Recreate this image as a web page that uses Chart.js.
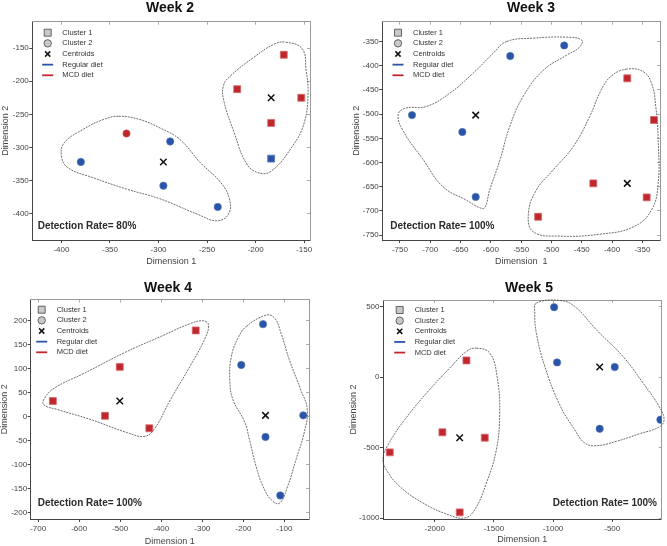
<!DOCTYPE html>
<html lang="en">
<head>
<meta charset="UTF-8" />
<title>Cluster plots, weeks 2-5</title>
<script src="https://cdn.jsdelivr.net/npm/chart.js"></script>
<style>
  body { margin: 0; background: #fff; font-family: "Liberation Sans", Arial, sans-serif; }
  #page { position: relative; width: 667px; height: 546px; overflow: hidden; }
  .panel { position: absolute; height: 273px; }
  .title { position: absolute; margin: 0; font-size: 14px; line-height: 14px; font-weight: bold; color: #111; white-space: nowrap; transform: translateX(-50%); }
</style>
</head>
<body>
<div id="page">
  <div class="panel" style="left:0;top:0;width:333px"><canvas id="w2"></canvas></div>
  <div class="panel" style="left:333px;top:0;width:334px"><canvas id="w3"></canvas></div>
  <div class="panel" style="left:0;top:273px;width:333px"><canvas id="w4"></canvas></div>
  <div class="panel" style="left:333px;top:273px;width:334px"><canvas id="w5"></canvas></div>
  <h2 class="title" style="left:170px;top:0">Week 2</h2>
  <h2 class="title" style="left:531px;top:0">Week 3</h2>
  <h2 class="title" style="left:168px;top:279.5px">Week 4</h2>
  <h2 class="title" style="left:529px;top:279.5px">Week 5</h2>
</div>

<script>
  const LEGEND_LABELS = ['Cluster 1', 'Cluster 2', 'Centroids', 'Regular diet', 'MCD diet'];

  // Week 2
  const W2_X_TICKS = [-400, -350, -300, -250, -200, -150];
  const W2_Y_TICKS = [-400, -350, -300, -250, -200, -150];
  const W2_MCD_C1 = [[-171, -160], [-219, -212], [-153, -225], [-184, -263]];
  const W2_REG_C1 = [[-184, -317]];
  const W2_MCD_C2 = [[-333, -279]];
  const W2_REG_C2 = [[-380, -322], [-288, -291], [-295, -358], [-239, -390]];
  const W2_CENTROIDS = [[-184, -225], [-295, -322]];
  const W2_HULL_C1 = [[-169, -141], [-152, -151], [-148, -183], [-146, -218], [-150, -263], [-162, -298], [-184, -336], [-198, -338], [-210, -323], [-222, -278], [-233, -228], [-233, -206], [-226, -192], [-202, -164], [-181, -144]];
  const W2_HULL_C2 = [[-341, -253], [-319, -258], [-298, -271], [-278, -288], [-257, -323], [-236, -353], [-227, -378], [-228, -401], [-240, -411], [-260, -401], [-298, -378], [-333, -363], [-367, -346], [-393, -331], [-400, -313], [-397, -293], [-378, -273], [-357, -258]];

  // Week 3
  const W3_X_TICKS = [-750, -700, -650, -600, -550, -500, -450, -400, -350];
  const W3_Y_TICKS = [-750, -700, -650, -600, -550, -500, -450, -400, -350];
  const W3_MCD_C1 = [[-375, -426], [-331, -512], [-431, -643], [-343, -672], [-522, -712]];
  const W3_REG_C2 = [[-479, -358], [-568, -380], [-730, -502], [-647, -537], [-625, -671]];
  const W3_CENTROIDS = [[-375, -643], [-625, -502]];
  const W3_HULL_C1 = [[-376, -407], [-401, -421], [-418, -450], [-437, -505], [-464, -567], [-497, -615], [-525, -657], [-538, -705], [-530, -743], [-486, -752], [-420, -748], [-365, -733], [-335, -698], [-324, -643], [-324, -553], [-328, -484], [-335, -436], [-349, -412]];
  const W3_HULL_C2 = [[-574, -350], [-530, -343], [-475, -341], [-450, -347], [-454, -362], [-475, -378], [-514, -410], [-547, -464], [-569, -526], [-585, -595], [-602, -657], [-610, -693], [-619, -693], [-640, -678], [-679, -650], [-711, -595], [-744, -536], [-753, -502], [-742, -488], [-706, -484], [-668, -457], [-629, -415], [-596, -374]];

  // Week 4
  const W4_X_TICKS = [-700, -600, -500, -400, -300, -200, -100];
  const W4_Y_TICKS = [-200, -150, -100, -50, 0, 50, 100, 150, 200];
  const W4_MCD_C1 = [[-316, 180], [-501, 104], [-664, 33], [-537, 2], [-429, -24]];
  const W4_REG_C2 = [[-152, 193], [-205, 108], [-54, 3], [-146, -42], [-110, -164]];
  const W4_CENTROIDS = [[-501, 33], [-146, 3]];
  const W4_HULL_C1 = [[-684, 39], [-660, 60], [-587, 91], [-491, 133], [-402, 167], [-330, 194], [-297, 200], [-285, 192], [-293, 164], [-330, 105], [-378, 35], [-418, -27], [-442, -41], [-483, -33], [-571, -6], [-652, 15], [-686, 25]];
  const W4_HULL_C2 = [[-193, 188], [-144, 212], [-124, 206], [-108, 174], [-88, 119], [-60, 56], [-44, 15], [-52, -34], [-72, -90], [-92, -145], [-112, -180], [-132, -173], [-152, -145], [-169, -103], [-185, -48], [-197, -10], [-225, 35], [-233, 77], [-229, 126], [-213, 164]];

  // Week 5
  const W5_X_TICKS = [-2000, -1500, -1000, -500];
  const W5_Y_TICKS = [-1000, -500, 0, 500];
  const W5_MCD_C1 = [[-1732, 118], [-1935, -391], [-1577, -429], [-2380, -533], [-1789, -958]];
  const W5_REG_C2 = [[-991, 495], [-966, 104], [-479, 71], [-93, -302], [-606, -366]];
  const W5_CENTROIDS = [[-1789, -429], [-606, 71]];
  const W5_HULL_C1 = [[-1648, 205], [-1535, 170], [-1473, 5], [-1451, -255], [-1479, -514], [-1563, -750], [-1662, -939], [-1747, -998], [-1887, -974], [-2099, -892], [-2296, -774], [-2409, -656], [-2437, -573], [-2394, -479], [-2254, -302], [-2056, -101], [-1873, 64], [-1732, 182]];
  const W5_HULL_C2 = [[-1141, 524], [-944, 543], [-817, 500], [-634, 335], [-409, 146], [-239, -43], [-104, -208], [-62, -302], [-104, -354], [-268, -401], [-465, -455], [-634, -486], [-732, -467], [-817, -373], [-944, -196], [-1070, 76], [-1141, 311], [-1155, 453]];

  const RED = '#c0272d', RED_EDGE = '#d4686b', BLUE = '#2a54a8', BLUE_EDGE = '#5878bb';
  const FONT = '"Liberation Sans", Arial, sans-serif';
  Chart.defaults.font.family = FONT;

  const pts = arr => arr.map(([x, y]) => ({ x, y }));

  const squares = (data, fill, edge) => ({ data: pts(data), pointStyle: 'rect', pointRadius: 4.9, pointBorderWidth: 0.8, backgroundColor: fill, borderColor: edge });
  const circles = (data, fill, edge) => ({ data: pts(data), pointStyle: 'circle', pointRadius: 3.7, pointBorderWidth: 0.6, backgroundColor: fill, borderColor: edge });
  const crosses = data => ({ data: pts(data), pointStyle: 'crossRot', pointRadius: 4.6, pointBorderWidth: 1.5, borderColor: '#111', backgroundColor: '#111' });
  const hull = data => ({ data: pts(data), showLine: true, closed: true, pointRadius: 0, pointHoverRadius: 0, pointHitRadius: 0, borderColor: '#4a4a4a', borderWidth: 0.8, borderDash: [2, 1], tension: 0.42, capBezierPoints: false, fill: false, clip: 12 });

  // smooth closed outline: tell the line element it is a loop
  const closeLoops = {
    id: 'closeLoops',
    afterDatasetUpdate(chart, args) {
      const line = args.meta.dataset;
      if (line && chart.data.datasets[args.index].closed) {
        line._loop = true;
        line._fullLoop = true;
        delete line._segments;
        delete line._path;
        line._pointsUpdated = false;
      }
    }
  };

  const drawIcon = (ctx, i, x, y) => {
    ctx.lineWidth = 0.8;
    ctx.strokeStyle = '#444';
    ctx.fillStyle = '#c9c9c9';
    ctx.beginPath();
    if (i === 0) {
      ctx.rect(x - 3.5, y - 3.5, 7, 7);
      ctx.fill(); ctx.stroke();
    } else if (i === 1) {
      ctx.arc(x, y, 3.7, 0, Math.PI * 2);
      ctx.fill(); ctx.stroke();
    } else if (i === 2) {
      ctx.strokeStyle = '#111';
      ctx.lineWidth = 1.5;
      ctx.moveTo(x - 2.6, y - 2.6); ctx.lineTo(x + 2.6, y + 2.6);
      ctx.moveTo(x + 2.6, y - 2.6); ctx.lineTo(x - 2.6, y + 2.6);
      ctx.stroke();
    } else {
      ctx.strokeStyle = i === 3 ? BLUE : RED;
      ctx.lineWidth = 1.8;
      ctx.moveTo(x - 5.5, y); ctx.lineTo(x + 5.5, y);
      ctx.stroke();
    }
  };

  const panelDecor = {
    id: 'panelDecor',
    afterDatasetsDraw(chart, args, o) {
      const { ctx, chartArea: a } = chart;
      ctx.save();
      LEGEND_LABELS.forEach((label, i) => {
        const y = a.top + o.legendY + i * 10.65;
        drawIcon(ctx, i, a.left + o.legendX, y);
        ctx.fillStyle = '#333';
        ctx.font = '7.5px ' + FONT;
        ctx.textAlign = 'left';
        ctx.textBaseline = 'middle';
        ctx.fillText(label, a.left + o.textX, y);
      });
      ctx.font = 'bold 10px ' + FONT;
      ctx.fillStyle = '#2b2b2b';
      ctx.textAlign = o.rateAlign;
      ctx.textBaseline = 'middle';
      const rx = o.rateAlign === 'right' ? a.right - o.rateX : a.left + o.rateX;
      ctx.fillText(o.rateText, rx, a.top + o.rateY);
      ctx.restore();
    }
  };

  const fixedTicks = values => s => { s.ticks = values.map(value => ({ value })); };

  const axis = (pos, range, tickValues, extra) => Object.assign({
    type: 'linear', position: pos, min: range[0], max: range[1],
    afterBuildTicks: fixedTicks(tickValues),
    ticks: { autoSkip: false, maxRotation: 0, callback: v => String(v), color: '#444', font: { size: 8 }, padding: pos === 'bottom' ? 2 : 0.5 },
    grid: { drawOnChartArea: false, tickLength: 3, tickColor: '#444', tickWidth: 1 },
    border: { color: '#444', width: 1 }
  }, extra);

  const mirror = (pos, range, tickValues) => ({
    type: 'linear', position: pos, min: range[0], max: range[1],
    afterBuildTicks: fixedTicks(tickValues),
    ticks: { display: false },
    grid: { drawOnChartArea: false, tickLength: -3, tickColor: '#999', tickWidth: 0.8 },
    border: { color: '#999', width: 1 },
    afterFit: s => { if (pos === 'top') s.height = 0; else s.width = 0; }
  });

  const makeChart = (id, W, box, xr, yr, xt, yt, xTitle, titlePads, decor, datasets) => {
    const H = 273;
    return new Chart(document.getElementById(id), {
      type: 'scatter',
      data: { datasets },
      options: {
        responsive: true,
        maintainAspectRatio: false,
        animation: false,
        events: [],
        layout: { autoPadding: false, padding: { left: 0, top: box.t, right: W - box.r, bottom: 0 } },
        plugins: { legend: { display: false }, tooltip: { enabled: false }, panelDecor: decor },
        scales: {
          x: axis('bottom', xr, xt, {
            title: { display: true, text: xTitle, color: '#444', font: { size: 9, lineHeight: 1 }, padding: { top: 0, bottom: titlePads.x } },
            afterFit: s => { s.height = H - box.b; }
          }),
          y: axis('left', yr, yt, {
            title: { display: true, text: 'Dimension 2', color: '#444', font: { size: 9, lineHeight: 1 }, padding: { top: titlePads.y, bottom: 0 } },
            afterFit: s => { s.width = box.l; }
          }),
          x2: mirror('top', xr, xt),
          y2: mirror('right', yr, yt)
        }
      },
      plugins: [closeLoops, panelDecor]
    });
  };

  makeChart('w2', 333, { l: 32.3, r: 310, t: 21.7, b: 240 }, [-430, -144], [-440, -110], W2_X_TICKS, W2_Y_TICKS, 'Dimension 1', { x: 6.5, y: 1.5 },
    { legendX: 15.4, legendY: 11, textX: 30, rateText: 'Detection Rate= 80%', rateX: 5.4, rateY: 205, rateAlign: 'left' },
    [
      crosses(W2_CENTROIDS),
      squares(W2_MCD_C1, RED, RED_EDGE),
      squares(W2_REG_C1, BLUE, BLUE_EDGE),
      circles(W2_MCD_C2, RED, RED_EDGE),
      circles(W2_REG_C2, BLUE, BLUE_EDGE),
      hull(W2_HULL_C1),
      hull(W2_HULL_C2)
    ]);

  makeChart('w3', 334, { l: 49.3, r: 327, t: 21.7, b: 240 }, [-779, -321], [-760, -309], W3_X_TICKS, W3_Y_TICKS, 'Dimension  1', { x: 6.5, y: 18.8 },
    { legendX: 15.7, legendY: 11, textX: 30.7, rateText: 'Detection Rate= 100%', rateX: 8, rateY: 205, rateAlign: 'left' },
    [
      crosses(W3_CENTROIDS),
      squares(W3_MCD_C1, RED, RED_EDGE),
      circles(W3_REG_C2, BLUE, BLUE_EDGE),
      hull(W3_HULL_C1),
      hull(W3_HULL_C2)
    ]);

  makeChart('w4', 333, { l: 30.7, r: 309, t: 26.7, b: 246 }, [-718, -40], [-213, 244], W4_X_TICKS, W4_Y_TICKS, 'Dimension 1', { x: 0.2, y: 0.5 },
    { legendX: 11, legendY: 10, textX: 26, rateText: 'Detection Rate= 100%', rateX: 7, rateY: 203.3, rateAlign: 'left' },
    [
      crosses(W4_CENTROIDS),
      squares(W4_MCD_C1, RED, RED_EDGE),
      circles(W4_REG_C2, BLUE, BLUE_EDGE),
      hull(W4_HULL_C1),
      hull(W4_HULL_C2)
    ]);

  makeChart('w5', 334, { l: 50, r: 328.7, t: 27, b: 246 }, [-2437, -82], [-1005, 546], W5_X_TICKS, W5_Y_TICKS, 'Dimension 1', { x: 1.8, y: 16.2 },
    { legendX: 16.7, legendY: 10, textX: 31.7, rateText: 'Detection Rate= 100%', rateX: 4.7, rateY: 203, rateAlign: 'right' },
    [
      crosses(W5_CENTROIDS),
      squares(W5_MCD_C1, RED, RED_EDGE),
      circles(W5_REG_C2, BLUE, BLUE_EDGE),
      hull(W5_HULL_C1),
      hull(W5_HULL_C2)
    ]);
</script>
</body>
</html>
